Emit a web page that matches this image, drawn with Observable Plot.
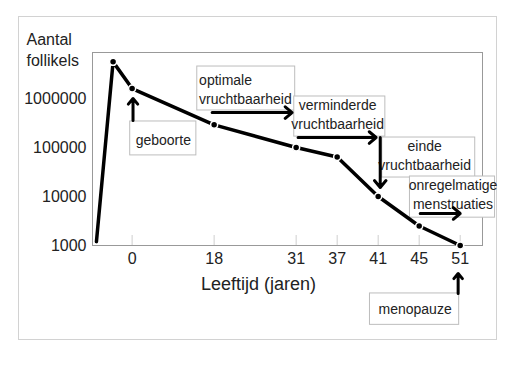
<!DOCTYPE html>
<html>
<head>
<meta charset="utf-8">
<script src="https://cdn.jsdelivr.net/npm/d3@7"></script>
<script src="https://cdn.jsdelivr.net/npm/@observablehq/plot@0.6"></script>
<style>
  html, body { margin: 0; padding: 0; background: white; }
  #wrap { position: relative; width: 524px; height: 384px; }
  #wrap svg { position: absolute; left: 0; top: 0; }
  #border { position: absolute; left: 18px; top: 16px; width: 477px; height: 322px; border: 1px solid #d2d2d2; pointer-events: none; }
</style>
</head>
<body>
<div id="wrap"><div id="border"></div></div>
<script>
// Data: age (years, negative = before birth) and number of follicles
const ages = [-0.75, -0.4, 0, 18, 31, 37, 41, 45, 51];
const follicles = [1200, 5600000, 1600000, 290000, 100000, 64000, 10000, 2500, 1000];

// Axis ticks
const xTicks = [0, 18, 31, 37, 41, 45, 51];
const yTicks = [1000, 10000, 100000, 1000000];

// The original x axis is not proportional to age: tick ages sit on these slots
const xBreakAges = [-0.75, 0, 18, 31, 37, 41, 45, 51];
const xBreakSlots = [-0.87, 0, 2, 4, 5, 6, 7, 8];

// Annotations (in data units: age, follicles)
const boxLabels = ["geboorte", "optimale\nvruchtbaarheid", "verminderde\nvruchtbaarheid", "einde\nvruchtbaarheid", "onregelmatige\nmenstruaties", "menopauze"];
const boxX1 = [-0.04, 14.3, 30.7, 41.4, 44.1, 40.2];
const boxX2 = [14.1, 30.85, 41.7, 53.2, 56.1, 50.85];
const boxYTop = [340000, 4500000, 1100000, 160000, 25600, 105];
const boxYBottom = [69000, 570000, 167000, 24400, 3700, 24];
const labelX = [6.85, 14.7, 37.05, 45.8, 49.95, 44.6];
const labelY = [153000, 1640000, 506000, 72000, 11800, 52];
const labelLeftAligned = [false, true, false, false, false, false];

const arrowX1 = [0.2, 17.56, 31.28, 41.2, 45.15, 50.7];
const arrowX2 = [0.2, 30.36, 40.8, 41.2, 51, 50.7];
const arrowY1 = [356000, 517000, 160000, 160000, 4500, 105];
const arrowY2 = [1000000, 517000, 160000, 15300, 4500, 268];

const data = ages.map((a, i) => ({age: a, count: follicles[i]}));
const idx = d3.range(boxLabels.length);
const arrowIdx = d3.range(arrowX1.length);
const ageToSlot = d3.scaleLinear(xBreakAges, xBreakSlots);

const chart = Plot.plot({
  width: 524,
  height: 384,
  marginLeft: 92,
  marginRight: 42,
  marginTop: 52,
  marginBottom: 139,
  style: {fontFamily: "'Liberation Sans', Arial, sans-serif", fontSize: "16px", color: "#222", background: "transparent"},
  x: {transform: ageToSlot, domain: [-0.966, 8.544], axis: null},
  y: {type: "log", domain: [1000, 8700000]},
  marks: [
    Plot.ruleX(xTicks, {x: d => d, y1: 1000, y2: 1600, stroke: "#cfcfcf"}),
    Plot.frame({stroke: "#999"}),
    Plot.rect(idx, {x1: i => boxX1[i], x2: i => boxX2[i], y1: i => boxYBottom[i], y2: i => boxYTop[i], fill: "white", stroke: "#bdbdbd"}),
    Plot.line(data, {x: "age", y: "count", stroke: "black", strokeWidth: 3.5}),
    Plot.dot(data, {x: "age", y: "count", filter: (d, i) => i > 0, r: 3.5, fill: "black", stroke: "white", strokeWidth: 1.5}),
    Plot.text(idx, {filter: i => !labelLeftAligned[i], x: i => labelX[i], y: i => labelY[i], text: i => boxLabels[i], fontSize: 14, lineHeight: 1.36, textAnchor: "middle", fill: "#222"}),
    Plot.text(idx, {filter: i => labelLeftAligned[i], x: i => labelX[i], y: i => labelY[i], text: i => boxLabels[i], fontSize: 14, lineHeight: 1.36, textAnchor: "start", fill: "#222"}),
    Plot.arrow(arrowIdx, {x1: i => arrowX1[i], x2: i => arrowX2[i], y1: i => arrowY1[i], y2: i => arrowY2[i], stroke: "black", strokeWidth: 3, headLength: 4.5, headAngle: 80}),
    // x tick labels
    Plot.text(xTicks, {x: d => d, text: d => String(d), frameAnchor: "bottom", lineAnchor: "top", dy: 7, fontSize: 16, fill: "#222"}),
    Plot.axisY({ticks: yTicks, tickFormat: d => String(d), tickSize: 0, tickPadding: 6, label: null, fontSize: 16, fill: "#222"}),
    Plot.text(["Aantal\nfollikels"], {text: d => d, frameAnchor: "top-left", dx: -66, dy: -23, textAnchor: "start", lineAnchor: "top", lineHeight: 1.33, fontSize: 16, fill: "#222"}),
    Plot.text(["Leeftijd (jaren)"], {text: d => d, frameAnchor: "bottom", dx: -29, dy: 32, lineAnchor: "top", fontSize: 18, fill: "#222"})
  ]
});
document.getElementById("wrap").appendChild(chart);
</script>
</body>
</html>
